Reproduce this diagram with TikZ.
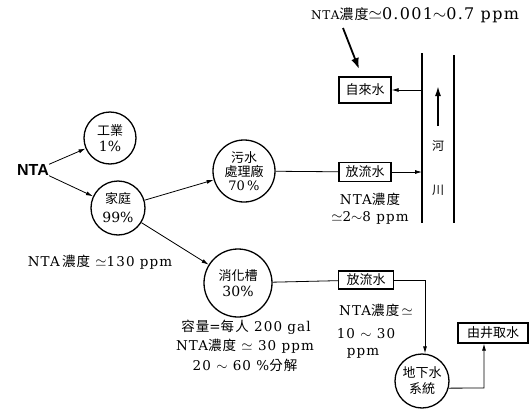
\documentclass[tikz,border=0pt]{standalone}
\usepackage{fontspec}
\setmainfont{DejaVu Serif}
\newfontfamily\cjk{Noto Sans CJK TC}
\newfontfamily\cjks[LetterSpace=8]{Noto Sans CJK TC}
\newfontfamily\lsp[LetterSpace=8]{DejaVu Serif}
\newfontfamily\hsans{Liberation Sans}
\usetikzlibrary{arrows.meta}
\begin{document}
\begin{tikzpicture}[x=1pt,y=-1pt,
  circ/.style={circle,draw,line width=1.3pt,inner sep=0pt,align=center,font=\fontsize{14}{16}\selectfont},
  boxn/.style={draw,line width=1.3pt,inner sep=1pt,font=\cjk\fontsize{13}{14}\selectfont},
  arr/.style={-{Latex[length=7pt,width=4pt]},line width=0.8pt},
  conn/.style={line width=0.8pt},
  lbl/.style={inner sep=0pt,font=\lsp\fontsize{13.5}{15}\selectfont},
  river/.style={line width=1.4pt}]
\useasboundingbox (0,0) rectangle (531,410);

% top label and arrow
\node[lbl] (top) at (415,15) {\fontsize{12}{14}\selectfont NTA{\cjks\fontsize{14}{14}\selectfont 濃度}\fontsize{16}{16}\selectfont$\simeq$0.001$\sim$0.7 ppm};
\coordinate (tS) at (343,28);
\coordinate (tE) at (359,69);
\draw[-{Latex[length=11pt,width=8pt]},line width=1.8pt] (tS) -- (tE);

% boxes
\node[boxn,minimum width=52pt,minimum height=26pt] (zls) at (365,90) {自來水};
\node[boxn,minimum width=52pt,minimum height=19pt] (fl1) at (365,172) {放流水};
\node[boxn,minimum width=55pt,minimum height=18pt] (fl2) at (366,280) {放流水};
\node[boxn,minimum width=70pt,minimum height=20pt] (jq) at (493,333) {由井取水};

% river
\coordinate (rL1) at (422,53);
\coordinate (rL2) at (422,223);
\coordinate (rR1) at (454,55);
\coordinate (rR2) at (454,223);
\draw[river] (rL1) -- (rL2);
\draw[river] (rR1) -- (rR2);
\coordinate (fA) at (438,126);
\coordinate (fB) at (438,86);
\draw[-{Latex[length=10pt,width=6pt]},line width=1.6pt] (fA) -- (fB);
\node[inner sep=0pt,font=\cjk\fontsize{12}{14}\selectfont] (he) at (438,146) {河};
\node[inner sep=0pt,font=\cjk\fontsize{12}{14}\selectfont] (chuan) at (438,190) {川};
\coordinate (rz) at (422,90);
\coordinate (rf) at (422,172);

% circles
\node[inner sep=0pt,font=\hsans\bfseries\fontsize{16}{18}\selectfont] (NTA) at (33,170) {NTA};
\node[circ,minimum size=52pt] (gy) at (110,138) {{\cjk\fontsize{13}{15}\selectfont 工業}\\1\%};
\node[circ,minimum size=54pt] (jt) at (118,208) {{\cjk\fontsize{13}{15}\selectfont 家庭}\\[3pt]99\%};
\node[circ,minimum size=62pt,font=\fontsize{13}{14}\selectfont] (ws) at (244,171) {{\cjk\fontsize{13}{14}\selectfont 污水}\\{\cjk\fontsize{13}{14}\selectfont 處理廠}\\70\,\%};
\node[circ,minimum size=68pt] (xh) at (238,283) {{\cjk\fontsize{13}{15}\selectfont 消化槽}\\30\%};
\node[circ,minimum size=54pt] (dx) at (422,381) {{\cjk\fontsize{13}{15}\selectfont 地下水}\\{\cjk\fontsize{13}{15}\selectfont 系統}};

% connectors
\draw[arr] (NTA.north east) -- (gy);
\draw[arr] (NTA.south east) -- (jt);
\draw[arr] (jt) -- (ws);
\draw[arr] (jt) -- (xh);
\draw[conn] (ws) -- (fl1);
\draw[arr] (fl1) -- (rf);
\draw[arr] (rz) -- (zls);
\draw[conn] (xh) -- (fl2);
\coordinate (c1) at (425,280);
\draw[arr] (fl2.east) -- (c1) -- (dx.north -| c1);
\coordinate (c2) at (484,388);
\draw[arr] (dx.-15) -- (c2) -- (jq.south -| c2);

% labels
\node[lbl] (l130) at (100,262) {NTA\,{\cjks 濃度} $\simeq$130 ppm};
\node[lbl] (lu1) at (370,199) {NTA{\cjks 濃度}};
\node[lbl] (lu2) at (370,218) {$\simeq$2$\sim$8 ppm};
\node[lbl] (ll1) at (376,310) {NTA{\cjks 濃度}\,$\simeq$};
\node[lbl] (ll2) at (366,334) {10 $\sim$ 30};
\node[lbl] (ll3) at (363,353) {ppm};
\node[lbl] (lx1) at (246,327) {{\cjks 容量}={\cjks 每人} 200 gal};
\node[lbl] (lx2) at (245,346) {NTA{\cjks 濃度} $\simeq$ 30 ppm};
\node[lbl] (lx3) at (245,365) {20 $\sim$ 60 \%{\cjks 分解}};
\end{tikzpicture}
\end{document}
